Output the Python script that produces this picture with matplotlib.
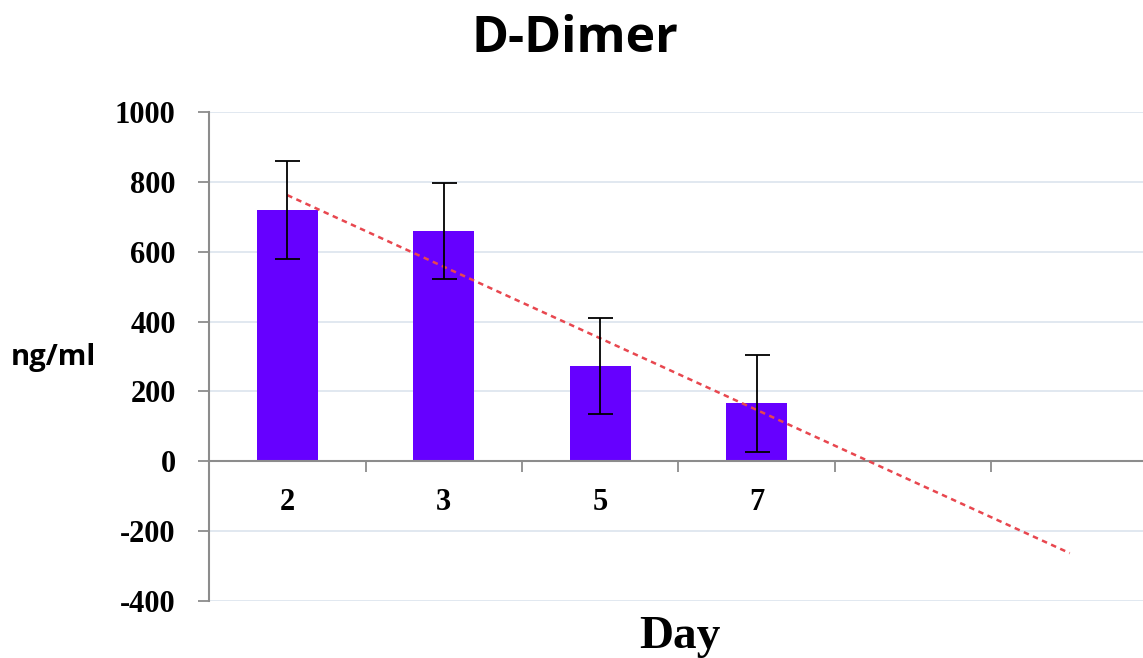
import numpy as np
import matplotlib.pyplot as plt

days = ['2', '3', '5', '7']
ddimer = [720, 660, 272, 166]
sd = [140, 138, 138, 138]
forecast = 2  # trendline extended two periods forward

plt.rcParams['axes.unicode_minus'] = False

n_slots = len(days) + forecast
x = np.arange(len(days))

fig = plt.figure(figsize=(11.43, 6.58), dpi=100)
ax = fig.add_axes([209/1143, 1 - 601/658, (1148 - 209)/1143, (601 - 112)/658])

ax.bar(x, ddimer, width=0.39, color='#6600ff', zorder=2)
ax.errorbar(x, ddimer, yerr=sd, fmt='none', ecolor='black', elinewidth=1.3,
            capsize=9, capthick=1.3, zorder=4)

# linear trendline like excel
k, b = np.polyfit(x, ddimer, 1)
xt = np.array([0, n_slots - 1])
ax.plot(xt, k*xt + b, color='#e8474f', lw=1.8, linestyle=(0, (2.2, 1.8)), zorder=3)

ax.set_xlim(-0.5, n_slots - 0.5)
ax.set_ylim(-400, 1000)
ax.set_yticks(np.arange(-400, 1001, 200))
ax.yaxis.grid(True, color='#dbe4ee', lw=1.2)
ax.set_axisbelow(True)

for s in ['top', 'right']:
    ax.spines[s].set_visible(False)
ax.spines['bottom'].set_position(('data', 0))
ax.spines['bottom'].set_color('#8c8c8c')
ax.spines['bottom'].set_linewidth(1.5)
ax.spines['left'].set_color('#8c8c8c')
ax.spines['left'].set_linewidth(1.5)

ax.set_xticks(x)
ax.set_xticklabels(days)
ax.set_xticks(np.arange(0.5, n_slots - 1, 1), minor=True)
ax.tick_params(axis='x', which='major', length=0, pad=19)
ax.tick_params(axis='x', which='minor', length=8, width=1.3, color='#8c8c8c', direction='out')
ax.tick_params(axis='y', length=8, width=1.3, color='#8c8c8c', pad=16)

for lab in ax.get_xticklabels() + ax.get_yticklabels():
    lab.set_family('Liberation Serif')
    lab.set_fontweight('bold')
    lab.set_fontsize(22)

fig.text(0.503, 0.94, 'D-Dimer', ha='center', va='center', family='Open Sans',
         fontweight='bold', fontsize=36)
fig.text(0.047, 1 - 358/658, 'ng/ml', ha='center', va='center', family='Open Sans',
         fontweight='bold', fontsize=21)
fig.text(680/1143, 1 - 637/658, 'Day', ha='center', va='center', family='Liberation Serif',
         fontweight='bold', fontsize=34)

fig.savefig('out.png', dpi=100)
